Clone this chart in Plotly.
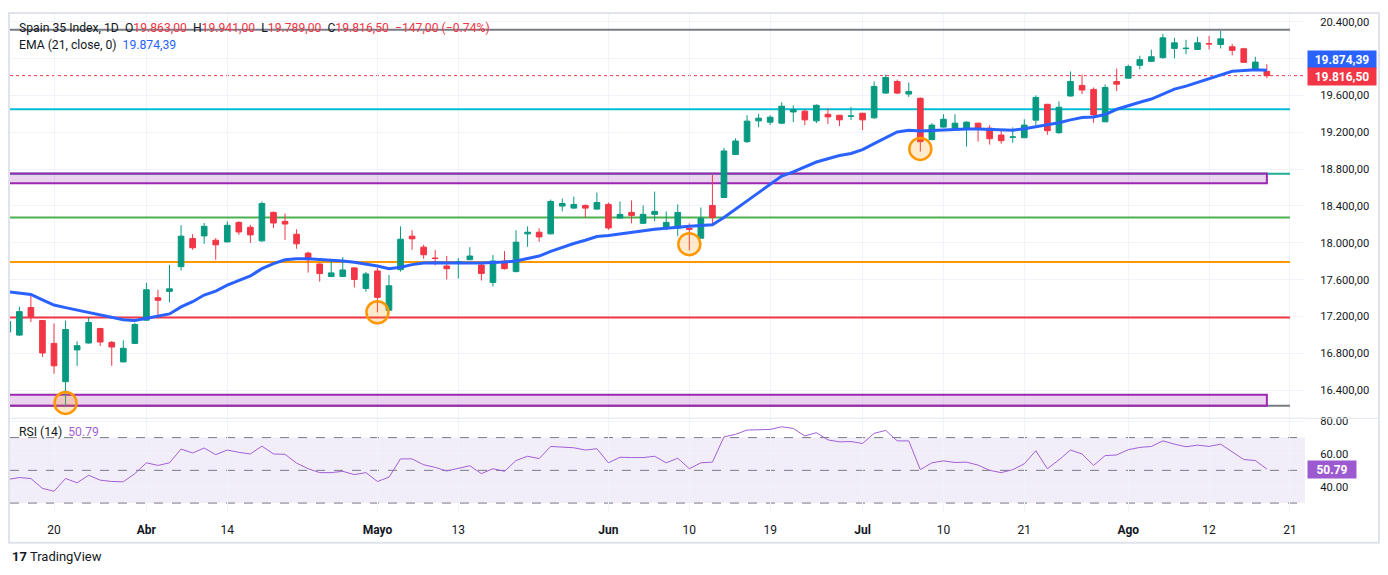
import pandas as pd
import plotly.graph_objects as go

# ---------------- DATA ----------------
holidays = ["2026-04-03", "2026-04-06", "2026-05-01"]
calendar = pd.bdate_range("2026-03-16", "2026-08-21", freq="C", holidays=holidays)
n_bars = 110
dates = calendar[:n_bars]

opens = [17030, 16997, 17296, 17155, 16907, 16491, 16836, 16911, 17069, 16918,
         16706, 16907, 17159, 17403, 17472, 17741, 18046, 18075, 18028, 18010,
         18222, 18169, 18021, 18330, 18233, 18093, 17888, 17770, 17633, 17633,
         17727, 17504, 17694, 17267, 17709, 18072, 17953, 17834, 17748, 17788,
         17816, 17759, 17569, 17802, 17687, 18097, 18115, 18097, 18399, 18377,
         18406, 18366, 18417, 18269, 18330, 18212, 18309, 18158, 18158, 18158,
         18050, 18406, 18492, 18959, 19099, 19325, 19311, 19300, 19422, 19430,
         19325, 19397, 19386, 19375, 19408, 19358, 19627, 19753, 19616, 19570,
         19121, 19257, 19246, 19246, 19300, 19246, 19171, 19148, 19142, 19333,
         19505, 19196, 19595, 19710, 19667, 19315, 19753, 19789, 19929, 19972,
         20012, 20112, 20110, 20101, 20165, 20155, 20130, 20109, 19882, 19863]

highs = [17160, 17306, 17443, 17160, 17123, 17155, 16929, 17191, 17075, 16933,
         16940, 17130, 17565, 17490, 17759, 18190, 18093, 18215, 18050, 18233,
         18233, 18194, 18449, 18341, 18319, 18147, 17903, 17775, 17813, 17845,
         17737, 17684, 17727, 17651, 18179, 18136, 17978, 17921, 17856, 17834,
         17953, 17781, 17867, 17910, 18136, 18179, 18158, 18470, 18481, 18503,
         18417, 18546, 18438, 18449, 18460, 18406, 18557, 18341, 18417, 18212,
         18384, 18740, 19031, 19135, 19386, 19401, 19386, 19527, 19494, 19451,
         19505, 19462, 19390, 19476, 19412, 19753, 19828, 19774, 19742, 19580,
         19300, 19397, 19397, 19322, 19305, 19279, 19236, 19254, 19343, 19602,
         19510, 19537, 19861, 19828, 19688, 19721, 19893, 19936, 20033, 20098,
         20270, 20227, 20206, 20238, 20249, 20303, 20162, 20119, 20022, 19941]

lows = [17020, 16990, 17137, 16760, 16577, 16228, 16663, 16905, 16879, 16663,
        16700, 16900, 17155, 17191, 17353, 17698, 17924, 17989, 17816, 18005,
        18086, 18000, 18010, 18161, 18032, 17935, 17676, 17579, 17630, 17630,
        17515, 17468, 17245, 17260, 17687, 17924, 17827, 17755, 17601, 17612,
        17812, 17590, 17525, 17709, 17680, 17957, 18010, 18090, 18341, 18370,
        18276, 18360, 18140, 18265, 18212, 18205, 18233, 18136, 18072, 17921,
        18045, 18190, 18485, 18955, 19085, 19254, 19279, 19289, 19311, 19279,
        19300, 19289, 19268, 19333, 19225, 19347, 19620, 19616, 19584, 18991,
        19115, 19250, 19240, 19045, 19099, 19067, 19077, 19088, 19138, 19279,
        19174, 19185, 19590, 19616, 19304, 19310, 19649, 19785, 19886, 19968,
        20001, 20004, 20048, 20097, 20101, 20112, 20037, 19955, 19878, 19789]

closes = [17145, 17252, 17198, 16803, 16663, 17058, 16882, 17134, 16922, 16868,
          16854, 17112, 17490, 17375, 17500, 18072, 17946, 18179, 17978, 18190,
          18118, 18086, 18427, 18215, 18204, 17989, 17816, 17666, 17673, 17705,
          17601, 17662, 17407, 17533, 18039, 18043, 17870, 17830, 17719, 17796,
          17856, 17666, 17802, 17719, 18007, 18115, 18064, 18449, 18427, 18417,
          18377, 18438, 18161, 18309, 18298, 18309, 18341, 18222, 18330, 18147,
          18266, 18276, 18998, 19106, 19322, 19354, 19365, 19484, 19448, 19336,
          19494, 19368, 19336, 19378, 19336, 19699, 19796, 19627, 19645, 19099,
          19279, 19343, 19300, 19311, 19239, 19131, 19110, 19150, 19279, 19580,
          19218, 19473, 19753, 19660, 19390, 19688, 19724, 19915, 19990, 20022,
          20227, 20173, 20114, 20173, 20161, 20216, 20091, 19961, 19963.5, 19816.5]

ema21 = [17468, 17455, 17439, 17380, 17324, 17296, 17270, 17245, 17218, 17191,
         17163, 17155, 17180, 17202, 17227, 17303, 17360, 17432, 17475, 17540,
         17594, 17640, 17719, 17773, 17816, 17827, 17827, 17820, 17809, 17802,
         17788, 17770, 17748, 17719, 17734, 17763, 17781, 17784, 17781, 17777,
         17781, 17781, 17784, 17791, 17802, 17827, 17856, 17906, 17953, 17992,
         18028, 18068, 18079, 18097, 18111, 18129, 18147, 18158, 18172, 18179,
         18187, 18197, 18276, 18366, 18456, 18539, 18636, 18725, 18770, 18822,
         18878, 18914, 18948, 18970, 19013, 19077, 19139, 19205, 19222, 19215,
         19220, 19228, 19232, 19236, 19236, 19232, 19226, 19224, 19239, 19260,
         19282, 19305, 19336, 19361, 19368, 19394, 19451, 19491, 19527, 19562,
         19620, 19670, 19703, 19742, 19785, 19828, 19863, 19872, 19880, 19874.39]

rsi14 = [44.4, 45.6, 45.0, 39.0, 37.2, 45.0, 42.4, 47.0, 44.0, 43.2,
         43.0, 48.0, 54.6, 53.0, 54.6, 63.0, 60.6, 63.6, 59.6, 62.4,
         61.0, 60.0, 64.8, 60.0, 59.8, 54.4, 51.0, 48.6, 48.6, 49.4,
         47.4, 48.6, 43.2, 45.8, 57.0, 57.0, 53.4, 51.8, 49.6, 51.0,
         52.8, 48.0, 51.0, 49.4, 56.0, 58.6, 57.2, 64.6, 64.0, 63.8,
         62.4, 63.2, 54.6, 58.0, 57.8, 57.8, 58.6, 54.6, 57.4, 51.0,
         54.6, 55.0, 70.4, 72.0, 74.6, 75.0, 75.0, 76.6, 75.6, 71.0,
         73.0, 68.6, 67.4, 67.6, 66.4, 72.6, 74.4, 68.0, 68.0, 50.4,
         54.6, 55.8, 54.8, 55.0, 53.2, 50.0, 48.6, 50.4, 54.0, 62.0,
         51.0, 56.4, 62.4, 60.0, 53.0, 59.0, 59.4, 62.6, 64.0, 64.6,
         68.0, 66.0, 64.4, 65.4, 64.6, 66.0, 61.4, 56.6, 56.0, 50.79]

tick_dates = ["2026-03-20", "2026-04-01", "2026-04-14", "2026-05-04", "2026-05-13",
              "2026-06-01", "2026-06-10", "2026-06-19", "2026-07-01", "2026-07-10",
              "2026-07-21", "2026-08-03", "2026-08-12", "2026-08-21"]
tick_labels = ["20", "<b>Abr</b>", "14", "<b>Mayo</b>", "13", "<b>Jun</b>", "10", "19",
               "<b>Jul</b>", "10", "21", "<b>Ago</b>", "12", "21"]

price_ticks = [16400, 16800, 17200, 17600, 18000, 18400, 18800, 19200, 19600, 20000, 20400]
rsi_ticks = [40, 60, 80]
rsi_bands = [30, 50, 70]

level_top = 20314
level_cyan = 19450
level_teal = 18750
level_green = 18276
level_orange = 17791
level_red = 17188
level_bottom = 16230
zone_upper = [18646, 18754]
zone_lower = [16230, 16350]
marked_bars = [5, 32, 59, 79]
marked_prices = [16260, 17245, 17985, 19020]
ema_last = 19874.39
rsi_last = 50.79

# ---------------- HELPERS ----------------
def es(v):
    s = f"{v:,.2f}"
    return s.replace(",", "X").replace(".", ",").replace("X", ".")

GREEN = "#089981"
RED = "#f23645"
BLUE = "#2962ff"
PURPLE_RSI = "#a35fd6"
TXT = "#131722"
GRID = "#f0f3fa"
FONT = "Roboto, sans-serif"

OFF = 8                      # page body margin of the html page
W, H = 1388 - OFF, 575 - OFF
L, R, T, B = 10, 1305, 10, 513   # plot area in page pixels
MAIN_BOTTOM = 417
RSI_TOP = 418

def px(xp):
    return (xp - L) / (R - L)

def py(yp):
    return (B - yp) / (B - T)

x = list(range(n_bars))
tick_pos = [calendar.get_loc(pd.Timestamp(d)) for d in tick_dates]

fig = go.Figure()

fig.add_trace(go.Candlestick(
    x=x, open=opens, high=highs, low=lows, close=closes,
    increasing=dict(line=dict(color=GREEN, width=1), fillcolor=GREEN),
    decreasing=dict(line=dict(color=RED, width=1), fillcolor=RED),
    whiskerwidth=0, hoverinfo="skip", showlegend=False,
    xaxis="x", yaxis="y"))

fig.add_trace(go.Scatter(x=x, y=ema21, mode="lines",
                         line=dict(color=BLUE, width=3), hoverinfo="skip",
                         showlegend=False, xaxis="x", yaxis="y"))

fig.add_trace(go.Scatter(x=marked_bars, y=marked_prices, mode="markers",
                         marker=dict(size=22, color="rgba(255,152,0,0.2)",
                                     line=dict(color="#ff9800", width=2.5)),
                         hoverinfo="skip", showlegend=False, xaxis="x", yaxis="y"))

fig.add_trace(go.Scatter(x=x, y=rsi14, mode="lines",
                         line=dict(color=PURPLE_RSI, width=1), hoverinfo="skip",
                         showlegend=False, xaxis="x2", yaxis="y2"))

shapes = []
x_end_line = tick_pos[-1]
x_end_zone = n_bars - 1

def hline(y, color, x1=x_end_line, width=2, dash="solid", layer="between"):
    shapes.append(dict(type="line", xref="x", yref="y", x0=-1, x1=x1, y0=y, y1=y,
                       line=dict(color=color, width=width, dash=dash), layer=layer))

hline(level_top, "#787b86")
hline(level_cyan, "#00bcd4")
hline(level_teal, "#22ab94")
hline(level_green, "#4caf50")
hline(level_orange, "#ff9800")
hline(level_red, "#f23645")
hline(level_bottom, "#787b86")

for z in (zone_upper, zone_lower):
    shapes.append(dict(type="rect", xref="x", yref="y", x0=-1, x1=x_end_zone,
                       y0=z[0], y1=z[1], fillcolor="rgba(156,39,176,0.2)",
                       line=dict(color="#9c27b0", width=2), layer="between"))

# last price dotted line
shapes.append(dict(type="line", xref="paper", yref="y", x0=0, x1=1,
                   y0=closes[-1], y1=closes[-1],
                   line=dict(color=RED, width=1, dash="dot"), layer="between"))

# RSI band
shapes.append(dict(type="rect", xref="paper", yref="y2", x0=0, x1=1,
                   y0=rsi_bands[0], y1=rsi_bands[2], fillcolor="rgba(126,87,194,0.1)",
                   line=dict(width=0), layer="below"))
for v in rsi_bands:
    shapes.append(dict(type="line", xref="paper", yref="y2", x0=0, x1=1, y0=v, y1=v,
                       line=dict(color="#787b86", width=1, dash="dash"), layer="between"))

# pane separator and frame
shapes.append(dict(type="line", xref="paper", yref="paper", x0=px(L), x1=px(1379),
                   y0=py(417.5), y1=py(417.5), line=dict(color="#e0e3eb", width=1)))
shapes.append(dict(type="rect", xref="paper", yref="paper", x0=px(9), x1=px(1379),
                   y0=py(543), y1=py(9), line=dict(color="#e0e3eb", width=2)))

annotations = []
O, Hh, Lw, C = opens[-1], highs[-1], lows[-1], closes[-1]
chg = closes[-1] - closes[-2]
pct = chg / closes[-2] * 100
sp = "\u00a0"
header = (f"Spain 35 Index, 1D{sp}{sp}O<span style='color:{RED}'>{es(O)}</span>{sp}{sp}"
          f"H<span style='color:{RED}'>{es(Hh)}</span>{sp}{sp}"
          f"L<span style='color:{RED}'>{es(Lw)}</span>{sp}{sp}"
          f"C<span style='color:{RED}'>{es(C)}</span>{sp}{sp}"
          f"<span style='color:{RED}'>\u2212{es(abs(chg))} (\u2212{abs(pct):.2f}%)</span>")
annotations.append(dict(xref="paper", yref="paper", x=px(17), y=py(24), xanchor="left",
                        yanchor="middle", text=header, showarrow=False,
                        font=dict(family=FONT, size=12.2, color=TXT)))
annotations.append(dict(xref="paper", yref="paper", x=px(17), y=py(41), xanchor="left",
                        yanchor="middle", showarrow=False,
                        text=f"EMA (21, close, 0){sp}{sp}<span style='color:{BLUE}'>{es(ema_last)}</span>",
                        font=dict(family=FONT, size=12.2, color=TXT)))
annotations.append(dict(xref="paper", yref="paper", x=px(17), y=py(431), xanchor="left",
                        yanchor="middle", showarrow=False,
                        text=f"RSI (14){sp}{sp}<span style='color:{PURPLE_RSI}'>{rsi_last:.2f}</span>",
                        font=dict(family=FONT, size=12.2, color=TXT)))

def label_box(yp, text, color, width):
    annotations.append(dict(xref="paper", yref="paper", x=px(1307), y=py(yp),
                            xanchor="left", yanchor="middle", showarrow=False,
                            text=f"<b>{text}</b>", bgcolor=color, width=width, height=15,
                            borderpad=1, align="center",
                            font=dict(family=FONT, size=12, color="white")))

label_box(56, es(ema_last), BLUE, 66)
label_box(73, es(closes[-1]), RED, 66)
label_box(469, f"{rsi_last:.2f}", "#9c5ad0", 46)

annotations.append(dict(xref="paper", yref="paper", x=px(10), y=py(557), xanchor="left",
                        yanchor="middle", showarrow=False,
                        text="<b>17</b> TradingView",
                        font=dict(family=FONT, size=13, color=TXT)))

x_range = [(L - 7.8) / 11.551, (R - 7.8) / 11.551]

fig.update_layout(
    width=W, height=H,
    margin=dict(l=L - OFF, r=1388 - R, t=T - OFF, b=575 - B),
    paper_bgcolor="white", plot_bgcolor="white",
    font=dict(family=FONT, size=12, color=TXT),
    showlegend=False,
    shapes=shapes, annotations=annotations,
    xaxis=dict(domain=[0, 1], range=x_range, tickvals=tick_pos, ticktext=[""] * len(tick_pos),
               showgrid=True, gridcolor=GRID, gridwidth=1, zeroline=False,
               rangeslider=dict(visible=False), anchor="y", showline=False,
               ticks=""),
    yaxis=dict(domain=[py(MAIN_BOTTOM), 1], range=[20400 - (MAIN_BOTTOM - 18) * 10.78,
                                                  20400 + 8 * 10.78],
               side="right", tickvals=price_ticks,
               ticktext=["" if v == 20000 else es(v) for v in price_ticks],
               showgrid=True, gridcolor=GRID, zeroline=False, anchor="x",
               ticks="outside", ticklen=12, tickcolor="rgba(0,0,0,0)",
               tickfont=dict(family=FONT, size=11.2, color=TXT)),
    xaxis2=dict(domain=[0, 1], range=x_range, tickvals=tick_pos, ticktext=tick_labels,
                showgrid=True, gridcolor=GRID, zeroline=False, anchor="y2",
                matches="x", ticks="outside", ticklen=6, tickcolor="rgba(0,0,0,0)",
                tickfont=dict(family=FONT, size=12, color=TXT)),
    yaxis2=dict(domain=[0, py(RSI_TOP)], range=[30 - (B - 503) / 1.65, 80 + 2.5 / 1.65],
                side="right", tickvals=rsi_ticks, ticktext=[f"{v:.2f}" for v in rsi_ticks],
                showgrid=True, gridcolor=GRID, zeroline=False, anchor="x2",
                ticks="outside", ticklen=12, tickcolor="rgba(0,0,0,0)",
                tickfont=dict(family=FONT, size=11.2, color=TXT)),
)

fig.write_html("out.html")
